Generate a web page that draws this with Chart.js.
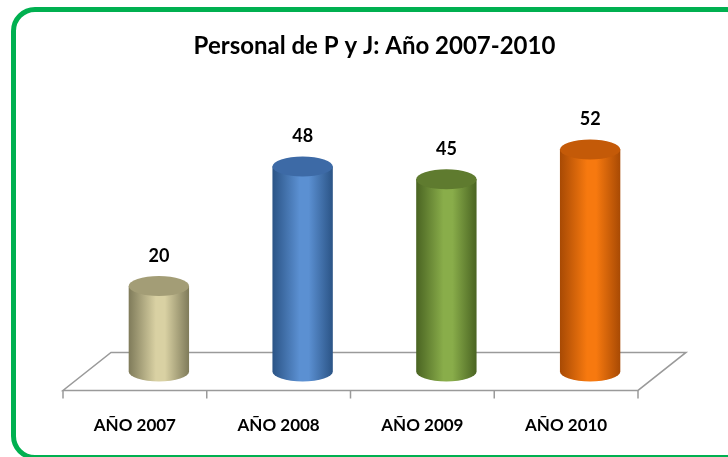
<!DOCTYPE html>
<html>
<head>
<meta charset="utf-8">
<script src="https://cdn.jsdelivr.net/npm/chart.js@4/dist/chart.umd.min.js"></script>
<style>
  html, body { margin: 0; padding: 0; background: #fff; }
  #wrap { position: relative; width: 728px; height: 457px; overflow: hidden; }
  #frame {
    position: absolute; left: 11px; top: 7px; width: 730px; height: 443px;
    border: 5px solid #00b050; border-radius: 24px; pointer-events: none;
  }
  canvas { position: absolute; left: 0; top: 0; }
</style>
</head>
<body>
<div id="wrap">
  <canvas id="chart" width="728" height="457"></canvas>
  <div id="frame"></div>
</div>
<script>
const labels = ["AÑO 2007", "AÑO 2008", "AÑO 2009", "AÑO 2010"]
const values = [20, 48, 45, 52]
// edge, centre, cap colours for each cylinder
const edgeColors = ["#7f7b5a", "#2b5486", "#4a6422", "#a84a04"]
const midColors = ["#d9d1a3", "#5b90d2", "#89ad4a", "#f7790f"]
const capColors = ["#a39d76", "#3d6aa6", "#5f7b2f", "#c45a08"]

const DEPTH_X = 24   // half of the floor depth, horizontal
const DEPTH_Y = 19   // half of the floor depth, vertical

const floorPlugin = {
    id: "floor",
    beforeDatasetsDraw(chart) {
        const ctx = chart.ctx
        const area = chart.chartArea
        const y0 = chart.scales.y.getPixelForValue(0)
        const fl = area.left - DEPTH_X, fr = area.right - DEPTH_X
        const fy = y0 + DEPTH_Y, by = y0 - DEPTH_Y
        ctx.save()
        ctx.strokeStyle = "#9a9a9a"
        ctx.lineWidth = 1.5
        ctx.beginPath()
        ctx.moveTo(fl, fy)
        ctx.lineTo(fr, fy)
        ctx.lineTo(area.right + DEPTH_X, by)
        ctx.lineTo(area.left + DEPTH_X, by)
        ctx.closePath()
        ctx.stroke()
        // tick marks on the front edge, at category boundaries
        const n = labels.length
        const step = (area.right - area.left) / n
        ctx.beginPath()
        for (let i = 0; i <= n; i++) {
            const x = fl + step * i
            ctx.moveTo(x, fy)
            ctx.lineTo(x, fy + 8)
        }
        ctx.stroke()
        ctx.restore()
    }
}

const cylinderPlugin = {
    id: "cylinders",
    afterDatasetsDraw(chart) {
        const ctx = chart.ctx
        const meta = chart.getDatasetMeta(0)
        meta.data.forEach((el, i) => {
            const cx = el.x, top = el.y, base = el.base
            const rx = el.width / 2, ry = 10
            const g = ctx.createLinearGradient(cx - rx, 0, cx + rx, 0)
            g.addColorStop(0, edgeColors[i])
            g.addColorStop(0.45, midColors[i])
            g.addColorStop(0.6, midColors[i])
            g.addColorStop(1, edgeColors[i])
            ctx.save()
            ctx.fillStyle = g
            ctx.beginPath()
            ctx.moveTo(cx - rx, top)
            ctx.lineTo(cx - rx, base)
            ctx.ellipse(cx, base, rx, ry, 0, Math.PI, 0, true)
            ctx.lineTo(cx + rx, top)
            ctx.closePath()
            ctx.fill()
            ctx.fillStyle = capColors[i]
            ctx.beginPath()
            ctx.ellipse(cx, top, rx, ry, 0, 0, Math.PI * 2)
            ctx.fill()
            // value label
            ctx.fillStyle = "#000"
            ctx.font = "bold 18px Lato"
            ctx.textAlign = "center"
            ctx.textBaseline = "middle"
            ctx.fillText(String(values[i]), cx, top - 30)
            ctx.restore()
        })
    }
}

new Chart(document.getElementById("chart"), {
    type: "bar",
    data: {
        labels: labels,
        datasets: [{
            data: values,
            backgroundColor: "rgba(0,0,0,0)",
            borderWidth: 0,
            barPercentage: 0.42,
            categoryPercentage: 1
        }]
    },
    options: {
        responsive: false,
        devicePixelRatio: 1,
        animation: false,
        layout: { padding: { top: 10, left: 87, right: 66, bottom: 4 } },
        plugins: {
            legend: { display: false },
            tooltip: { enabled: false },
            title: {
                display: true,
                text: "Personal de P y J: Año 2007-2010",
                color: "#000",
                font: { family: "Lato", size: 24, weight: "bold" },
                padding: { top: 22, bottom: 46 }
            }
        },
        scales: {
            x: {
                grid: { display: false },
                border: { display: false },
                ticks: {
                    color: "#000",
                    font: { family: "Lato", size: 17, weight: "bold" },
                    labelOffset: -DEPTH_X,
                    padding: 17
                }
            },
            y: {
                display: false,
                min: -4.5,
                max: 62
            }
        }
    },
    plugins: [floorPlugin, cylinderPlugin]
})
</script>
</body>
</html>
